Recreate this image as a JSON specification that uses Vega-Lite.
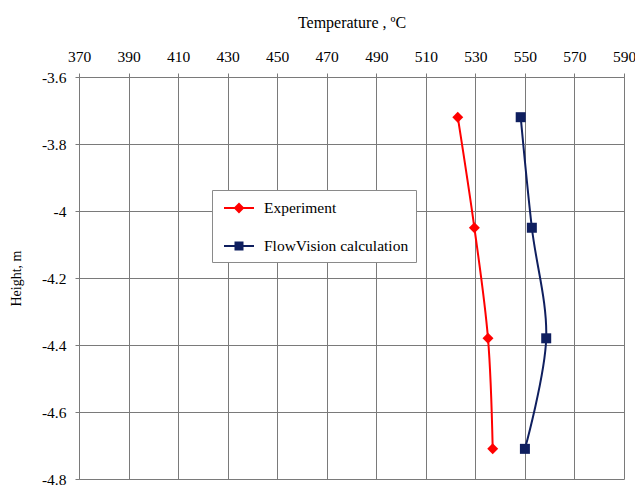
{
  "$schema": "https://vega.github.io/schema/vega-lite/v6.json",
  "autosize": "none",
  "width": 545,
  "height": 402,
  "padding": {"left": 79, "top": 77, "right": 11, "bottom": 7},
  "background": "white",
  "config": {
    "view": {"stroke": null},
    "font": "Liberation Serif",
    "axis": {
      "labelFont": "Liberation Serif",
      "labelFontSize": 15.5,
      "labelColor": "#000000",
      "labelFlush": false,
      "titleFont": "Liberation Serif",
      "titleFontWeight": "normal",
      "titleColor": "#000000",
      "gridColor": "#7a7a7a",
      "gridOpacity": 1,
      "gridWidth": 1,
      "domainColor": "#7a7a7a",
      "domainWidth": 1,
      "tickColor": "#7a7a7a",
      "tickSize": 4
    },
    "legend": {"labelFont": "Liberation Serif"}
  },
  "data": {
    "values": [
      {"series": "Experiment", "temperature": 522.9, "height": -3.72},
      {"series": "Experiment", "temperature": 529.6, "height": -4.05},
      {"series": "Experiment", "temperature": 535.1, "height": -4.38},
      {"series": "Experiment", "temperature": 537.0, "height": -4.71},
      {"series": "FlowVision calculation", "temperature": 548.3, "height": -3.72},
      {"series": "FlowVision calculation", "temperature": 552.8, "height": -4.05},
      {"series": "FlowVision calculation", "temperature": 558.6, "height": -4.38},
      {"series": "FlowVision calculation", "temperature": 550.0, "height": -4.71}
    ]
  },
  "encoding": {
    "x": {
      "field": "temperature",
      "type": "quantitative",
      "scale": {"domain": [370, 590], "nice": false, "zero": false},
      "axis": {
        "orient": "top",
        "title": "Temperature , ºC",
        "titleFontSize": 16,
        "values": [370, 390, 410, 430, 450, 470, 490, 510, 530, 550, 570, 590],
        "grid": true,
        "labelFlush": false,
        "labelPadding": 9,
        "titlePadding": 19
      }
    },
    "y": {
      "field": "height",
      "type": "quantitative",
      "scale": {"domain": [-4.8, -3.6], "nice": false, "zero": false},
      "axis": {
        "title": "Height, m",
        "titleFontSize": 14,
        "values": [-3.6, -3.8, -4, -4.2, -4.4, -4.6, -4.8],
        "labelExpr": "replace(format(datum.value, '.1~f'), '\u2212', '-')",
        "grid": true,
        "labelFlush": false,
        "labelPadding": 9,
        "titlePadding": 18
      }
    },
    "color": {
      "field": "series",
      "type": "nominal",
      "scale": {"domain": ["Experiment", "FlowVision calculation"], "range": ["#FF0000", "#0F1F5F"]},
      "legend": {
        "title": null,
        "orient": "none",
        "legendX": 133,
        "legendY": 113,
        "fillColor": "white",
        "strokeColor": "#8a8a8a",
        "padding": 7,
        "labelFontSize": 15.5,
        "labelColor": "#000000",
        "rowPadding": 18,
        "symbolSize": 400,
        "symbolOffset": 9,
        "symbolStrokeWidth": 2,
        "labelOffset": 14,
        "encode": {
          "symbols": {
            "update": {
              "stroke": {"signal": "datum.value === 'Experiment' ? '#FF0000' : '#0F1F5F'"},
              "fill": {"signal": "datum.value === 'Experiment' ? '#FF0000' : '#0F1F5F'"},
              "strokeWidth": {"value": 2}
            }
          }
        }
      }
    }
  },
  "layer": [
    {
      "mark": {"type": "line", "interpolate": "catmull-rom", "strokeWidth": 2},
      "encoding": {
        "order": {"field": "height", "sort": "descending"}
      }
    },
    {
      "transform": [{"filter": "datum.series === 'Experiment'"}],
      "mark": {"type": "point", "filled": true, "opacity": 1, "size": 120, "shape": "diamond"},
      "encoding": {}
    },
    {
      "transform": [{"filter": "datum.series !== 'Experiment'"}],
      "mark": {"type": "point", "filled": true, "opacity": 1, "size": 100, "shape": "square"},
      "encoding": {}
    },
    {
      "transform": [{"filter": "false"}],
      "mark": {"type": "point", "filled": true, "opacity": 1},
      "encoding": {
        "shape": {
          "field": "series",
          "type": "nominal",
          "scale": {"domain": ["Experiment", "FlowVision calculation"], "range": ["M-1.5,0H1.5M-0.4,0L0,-0.4L0.4,0L0,0.4Z", "M-1.5,0H1.5M-0.35,-0.35H0.35V0.35H-0.35Z"]}
        }
      }
    }
  ]
}
